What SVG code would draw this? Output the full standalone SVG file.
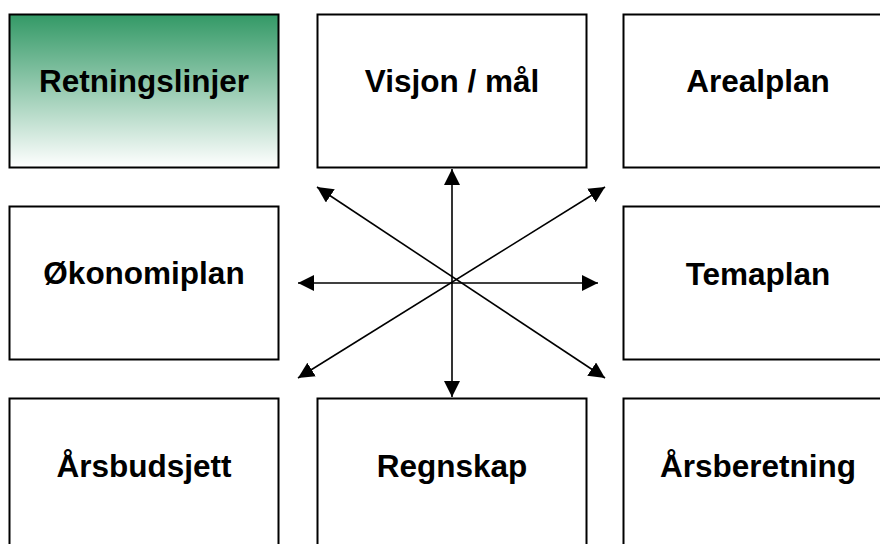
<svg xmlns="http://www.w3.org/2000/svg" width="880" height="544" viewBox="0 0 880 544">
<style>
.box{fill:#fff;stroke:#000;stroke-width:2}
.lbl{font-family:"Liberation Sans",Arial,sans-serif;font-weight:bold;font-size:31.5px;text-anchor:middle;fill:#000}
.con{stroke:#000;stroke-width:1.6;fill:none;marker-end:url(#ah);marker-start:url(#ahs)}
</style>
<defs>
<linearGradient id="g" x1="0" y1="0" x2="0" y2="1">
<stop offset="0" stop-color="#339966"/>
<stop offset="1" stop-color="#ffffff"/>
</linearGradient>
<marker id="ah" viewBox="0 0 10 10" refX="10" refY="5" markerWidth="10" markerHeight="10" markerUnits="strokeWidth" orient="auto">
<path d="M0,0 L10,5 L0,10 z" fill="#000"/>
</marker>
<marker id="ahs" viewBox="0 0 10 10" refX="0" refY="5" markerWidth="10" markerHeight="10" markerUnits="strokeWidth" orient="auto">
<path d="M10,0 L0,5 L10,10 z" fill="#000"/>
</marker>
</defs>
<g id="n-retningslinjer"><rect class="box" x="9.5" y="14.5" width="269" height="153" style="fill:url(#g)"/><text class="lbl" x="144" y="92">Retningslinjer</text></g>
<g id="n-visjon"><rect class="box" x="317.5" y="14.5" width="269" height="153"/><text class="lbl" x="452" y="92">Visjon / mål</text></g>
<g id="n-arealplan"><rect class="box" x="623.5" y="14.5" width="269" height="153"/><text class="lbl" x="758" y="92">Arealplan</text></g>
<g id="n-okonomiplan"><rect class="box" x="9.5" y="206.5" width="269" height="153"/><text class="lbl" x="144" y="284">Økonomiplan</text></g>
<g id="n-temaplan"><rect class="box" x="623.5" y="206.5" width="269" height="153"/><text class="lbl" x="758" y="285">Temaplan</text></g>
<g id="n-arsbudsjett"><rect class="box" x="9.5" y="398.5" width="269" height="153"/><text class="lbl" x="144" y="477">Årsbudsjett</text></g>
<g id="n-regnskap"><rect class="box" x="317.5" y="398.5" width="269" height="153"/><text class="lbl" x="452" y="477">Regnskap</text></g>
<g id="n-arsberetning"><rect class="box" x="623.5" y="398.5" width="269" height="153"/><text class="lbl" x="758" y="477">Årsberetning</text></g>
<g id="connectors">
<line class="con" x1="452" y1="169" x2="452" y2="397"/>
<line class="con" x1="298" y1="283" x2="598" y2="283"/>
<line class="con" x1="317" y1="187" x2="605" y2="378"/>
<line class="con" x1="298" y1="378" x2="605" y2="187"/>
</g>
</svg>
